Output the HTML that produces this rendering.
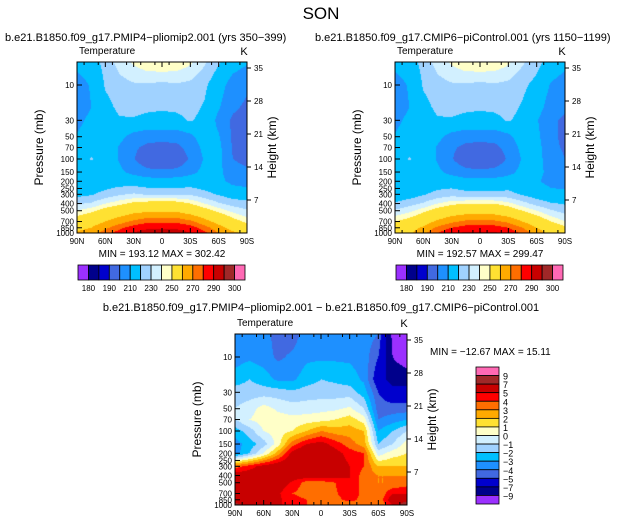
<!DOCTYPE html>
<html><head><meta charset="utf-8">
<style>
body{margin:0;background:#fff;width:643px;height:526px;overflow:hidden;position:relative;font-family:"Liberation Sans",sans-serif;}
svg{position:absolute;left:0;top:0}
canvas{position:absolute}
text{font-family:"Liberation Sans",sans-serif;fill:#000}
</style></head><body>
<canvas id="c1" width="170" height="171" style="left:77px;top:62px"></canvas>
<canvas id="c2" width="170" height="171" style="left:395px;top:62px"></canvas>
<canvas id="c3" width="172" height="171" style="left:235px;top:334px"></canvas>
<svg id="s" width="643" height="526"></svg>
<script>
// ---- data ----
const lats = [90,75,60,45,30,15,0,-15,-30,-45,-60,-75,-90];
const plevs = [5,10,20,30,50,70,100,150,200,300,400,500,700,850,1000];
const tempPlio = [
[222,226,234,242,247,251,252,251,247,240,232,224,220],
[214,220,232,236,238,238,237,238,237,233,224,214,210],
[212,219,228,233,234,233,232,233,234,230,220,210,206],
[216,222,226,230,230,228,228,228,232,228,216,206,204],
[220,224,225,222,215,212,212,212,216,226,220,206,204],
[222,226,225,218,210,205,204,205,212,222,222,207,205],
[225,232,226,218,209,198,196,198,210,220,222,208,205],
[222,224,224,221,216,212,211,212,216,222,222,212,210],
[222,224,225,226,226,224,224,224,225,224,222,216,214],
[228,230,234,238,240,238,238,238,238,234,230,226,225],
[238,240,246,250,254,256,256,256,252,246,240,236,234],
[246,250,256,260,264,266,266,266,262,256,250,244,240],
[258,262,268,274,280,284,284,284,280,272,264,256,250],
[264,268,276,284,290,294,294,294,290,282,272,264,258],
[270,274,282,290,297,302,302,302,296,288,278,270,266]];
const tempCtrl = [
[222,226,234,242,247,251,252,251,247,240,234,226,222],
[214,220,232,236,238,238,237,238,237,233,228,218,214],
[212,219,228,233,234,233,232,233,234,230,224,214,210],
[216,222,226,230,230,228,228,228,232,228,220,210,206],
[220,224,225,222,215,212,212,212,216,226,222,210,206],
[222,226,225,218,210,205,204,205,212,222,224,210,207],
[225,232,226,218,209,199,197,199,210,220,224,212,208],
[222,224,224,221,216,212,211,212,216,222,222,216,212],
[220,222,224,225,225,223,223,223,224,222,220,216,214],
[224,226,230,234,236,234,234,234,234,230,226,222,222],
[232,236,240,246,250,252,252,252,248,242,236,232,230],
[240,244,250,256,260,262,262,262,258,252,246,240,236],
[252,256,262,270,276,280,280,280,276,268,260,252,246],
[258,262,270,280,286,290,290,290,286,278,268,260,254],
[262,266,276,286,293,298,298,298,292,284,274,264,258]];
const tempDiff = [
[-3.5,-3.2,-3.5,-4.5,-4.5,-3.5,-3.2,-3.2,-3.2,-3.5,-4,-9.5,-10],
[-3.5,-3.2,-3.5,-4.2,-3.8,-3.2,-3.2,-3.2,-3.2,-3.5,-5,-9,-10],
[-2.5,-2,-2.5,-3.2,-3.2,-2.5,-2,-2.2,-2.5,-3.2,-6,-8,-8],
[-1.5,-1.5,-1.5,-1.5,-1.8,-1.5,-1.5,-1.5,-1.5,-2.5,-5,-6,-6],
[-1,-0.5,0.5,-0.2,-0.5,-0.5,-0.3,-0.2,0.2,-1,-4.5,-4.5,-4.5],
[-1,0,0.5,0.5,0.3,0.5,0.6,1,1.5,0.5,-4,-3.5,-3],
[-2.5,-1.5,0,0.5,1,2,3,2.5,2.5,2,-3,-2,-1],
[-3.5,-2.5,-1.5,0.5,3.5,5,5.5,4.5,3.5,2.5,-2,-1,0.5],
[-3.5,-2,0,2.5,5.5,6.5,6.5,5.5,4.5,4,-0.5,0.5,1],
[3.5,4.5,5.5,6,6.5,6.5,6.5,6,5,4,2,2,2],
[5.8,5.8,5.8,5.8,5.8,5.8,5.8,5.5,5,3.5,3,3,3],
[5.8,5.8,5.8,5.8,4.8,3.5,3.5,4,5,3.5,3,3,3.5],
[5.8,5.8,5.8,5.2,4,3.5,3.5,3.8,5,3.5,3,5,5],
[5.8,5.8,5.8,5.2,4.5,4,3.5,3.5,4.5,3.5,3,6,6],
[8,5.8,5.8,5.2,4.5,4,3.5,3,3,3,3,5,9]];
const tempLevels = [160,175,190,208,219,231,239,246,252,268,278,286,296,304,310];
const tempLabels = ["180","","190","","210","","230","","250","","270","","290","","300"];
const diffLevels = [-9,-7,-5,-4,-3,-2,-1,0,1,2,3,4,5,7,9];
const palette = ["#9b30ff","#00008b","#0000cd","#4169e1","#1e90ff","#00bfff","#a0d2ff","#d2f0ff","#ffffc8","#ffe132","#ffaa00","#ff6e00","#ff0000","#c80000","#a02828","#ff69b4"];
const pTicks = [10,30,50,70,100,150,200,250,300,400,500,700,850,1000];
const hTicks = [7,14,21,28,35];
const latTicks = ["90N","60N","30N","0","30S","60S","90S"];

const NS="http://www.w3.org/2000/svg", S=document.getElementById('s');
function T(x,y,s,sz,anchor,name,extra){const e=document.createElementNS(NS,'text');e.setAttribute('x',x);e.setAttribute('y',y);e.setAttribute('font-size',sz);e.setAttribute('text-anchor',anchor||'start');if(extra)e.setAttribute('transform',extra);e.textContent=s;


S.appendChild(e);return e;}
function L(x1,y1,x2,y2,name){const e=document.createElementNS(NS,'line');e.setAttribute('x1',x1);e.setAttribute('y1',y1);e.setAttribute('x2',x2);e.setAttribute('y2',y2);e.setAttribute('stroke','#000');e.setAttribute('stroke-width',1);


S.appendChild(e);}
function R(x,y,w,h,f,name){const e=document.createElementNS(NS,'rect');e.setAttribute('x',x);e.setAttribute('y',y);e.setAttribute('width',w);e.setAttribute('height',h);e.setAttribute('fill',f);e.setAttribute('stroke','#000');e.setAttribute('stroke-width',0.8);


S.appendChild(e);}
function colorIdx(v,lv){let i=0;while(i<lv.length&&v>=lv[i])i++;return i;}
function hex(c){return [parseInt(c.substr(1,2),16),parseInt(c.substr(3,2),16),parseInt(c.substr(5,2),16)];}
const palRGB=palette.map(hex);

function panel(cid,x0,y0,w,h,grid,lv){
  const dec=74, yOf=p=>y0+h-dec*Math.log10(1000/p);
  const xOf=lat=>x0+(90-lat)/180*w;
  const cv=document.getElementById(cid),ctx=cv.getContext('2d'),img=ctx.createImageData(w,h);
  const rowY=plevs.map(p=>yOf(p)-y0), colX=lats.map(l=>xOf(l)-x0);
  for(let py=0;py<h;py++){
    const yy=py+0.5; let r=0; while(r<rowY.length-2&&yy>rowY[r+1])r++;
    let fy=(yy-rowY[r])/(rowY[r+1]-rowY[r]); fy=Math.max(0,Math.min(1,fy));
    for(let px=0;px<w;px++){
      const xx=px+0.5; let c=0; while(c<colX.length-2&&xx>colX[c+1])c++;
      let fx=(xx-colX[c])/(colX[c+1]-colX[c]); fx=Math.max(0,Math.min(1,fx));
      const v=(grid[r][c]*(1-fx)+grid[r][c+1]*fx)*(1-fy)+(grid[r+1][c]*(1-fx)+grid[r+1][c+1]*fx)*fy;
      const col=palRGB[colorIdx(v,lv)],k=(py*w+px)*4;
      img.data[k]=col[0];img.data[k+1]=col[1];img.data[k+2]=col[2];img.data[k+3]=255;
    }
  }
  ctx.putImageData(img,0,0);
  const f=document.createElementNS(NS,'rect');f.setAttribute('x',x0);f.setAttribute('y',y0);f.setAttribute('width',w);f.setAttribute('height',h);f.setAttribute('fill','none');f.setAttribute('stroke','#000');
  
  
  S.appendChild(f);
  pTicks.forEach(p=>{const y=yOf(p);L(x0,y,x0+5,y,'pressure-tick');T(x0-3,y+3,String(p),8,'end','pressure-tick-label');});
  hTicks.forEach(k=>{const y=y0+h-k*(h-6)/35;L(x0+w,y,x0+w+4,y,'height-tick');T(x0+w+7,y+3,String(k),8,'start','height-tick-label');});
  latTicks.forEach((s,i)=>{const x=x0+i*w/6;L(x,y0+h,x,y0+h-5,'lat-tick');L(x,y0,x,y0+5,'lat-tick-top');T(x,y0+h+11,s,8,'middle','lat-tick-label');});
  for(let i=0;i<12;i++){const x=x0+(i+0.5)*w/12;L(x,y0,x,y0+3,'minor-tick');L(x,y0+h,x,y0+h-3,'minor-tick');}
  T(x0+2,y0-8,'Temperature',10,'start','variable-label');
  T(x0+w-3,y0-7,'K',11,'middle','units-label');
  T(x0-34,y0+h/2,'Pressure (mb)',12,'middle','y-axis-title','rotate(-90 '+(x0-34)+' '+(y0+h/2)+')');
  T(x0+w+29,y0+h/2,'Height (km)',12,'middle','height-axis-title','rotate(-90 '+(x0+w+29)+' '+(y0+h/2)+')');
}
function hbar(x0,y0,w,h,labels){
  const bw=w/16;
  for(let i=0;i<16;i++)R(x0+i*bw,y0,bw,h,palette[i],'colorbar-box');
  labels.forEach((s,i)=>{if(s)T(x0+(i+1)*bw,y0+h+11,s,8,'middle','colorbar-label');});
}
function vbar(x0,y0,w,h,lv){
  const bh=h/16;
  for(let i=0;i<16;i++)R(x0,y0+i*bh,w,bh,palette[15-i],'colorbar-box');
  lv.slice().reverse().forEach((v,i)=>{T(x0+w+4,y0+(i+1)*bh+4,String(v).replace('-','\u2212'),9,'start','colorbar-label');});
}
T(321,19,'SON',17,'middle','main-title');
T(5,41,'b.e21.B1850.f09_g17.PMIP4\u2212pliomip2.001  (yrs 350\u2212399)',11,'start','left-panel-title');
T(315,41,'b.e21.B1850.f09_g17.CMIP6\u2212piControl.001  (yrs 1150\u22121199)',11,'start','right-panel-title');
T(321,311,'b.e21.B1850.f09_g17.PMIP4\u2212pliomip2.001  \u2212  b.e21.B1850.f09_g17.CMIP6\u2212piControl.001',11,'middle','diff-panel-title');
panel('c1',77,62,170,171,tempPlio,tempLevels);
panel('c2',395,62,170,171,tempCtrl,tempLevels);
panel('c3',235,334,172,171,tempDiff,diffLevels);
T(162,257,'MIN = 193.12   MAX = 302.42',10,'middle','left-min-max');
T(480,257,'MIN = 192.57   MAX = 299.47',10,'middle','right-min-max');
T(430,355,'MIN = \u221212.67   MAX =  15.11',10,'start','diff-min-max');
hbar(78,265,167,15,tempLabels);
hbar(396,265,167,15,tempLabels);
vbar(476,367,23,137,diffLevels);
</script>
</body></html>
